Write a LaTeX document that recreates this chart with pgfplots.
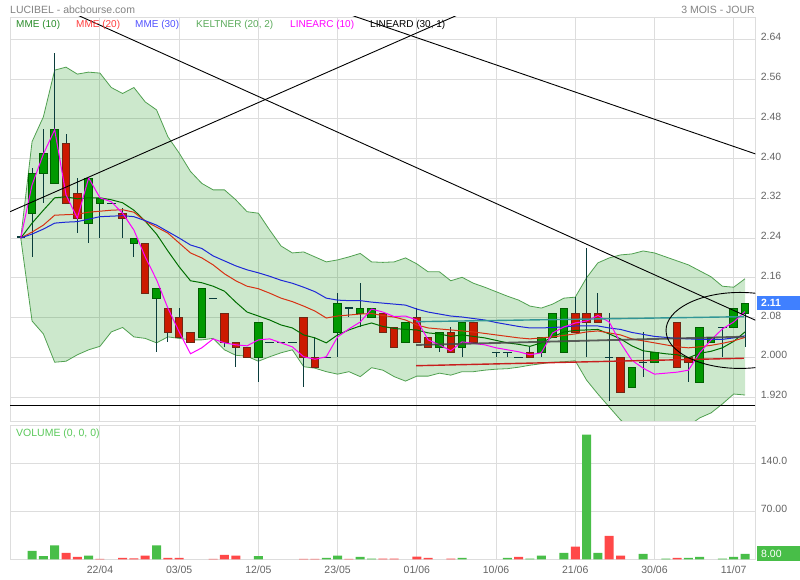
\documentclass[border=0pt]{standalone}
\usepackage{fontspec}
\setmainfont{Liberation Sans}
\usepackage{pgfplots}
\usepackage{pgfplotstable}
\pgfplotsset{compat=1.18}
\usepgfplotslibrary{fillbetween}

\definecolor{gridc}{RGB}{221,221,221}
\definecolor{txtc}{RGB}{100,100,100}
\definecolor{titlec}{RGB}{130,130,130}
\definecolor{kfill}{RGB}{0,140,0}
\definecolor{kline}{RGB}{80,160,80}
\definecolor{mmeA}{RGB}{0,110,0}
\definecolor{mmeB}{RGB}{215,50,20}
\definecolor{mmeC}{RGB}{30,40,215}
\definecolor{linarc}{RGB}{255,0,255}
\definecolor{cgreen}{RGB}{0,153,0}
\definecolor{cgreenb}{RGB}{0,95,0}
\definecolor{cred}{RGB}{204,26,0}
\definecolor{credb}{RGB}{110,40,20}
\definecolor{wick}{RGB}{10,60,60}
\definecolor{vgreen}{RGB}{72,190,72}
\definecolor{vred}{RGB}{255,72,72}
\definecolor{tealc}{RGB}{50,150,150}
\definecolor{grayl}{RGB}{70,70,70}
\definecolor{redl}{RGB}{200,30,30}
\definecolor{lblblue}{RGB}{64,128,255}
\definecolor{lgA}{RGB}{40,140,40}
\definecolor{lgB}{RGB}{255,60,60}
\definecolor{lgC}{RGB}{80,80,255}
\definecolor{lgD}{RGB}{90,170,90}
\definecolor{volc}{RGB}{90,200,90}

\pgfplotstableread{
d ku kl m10 m20 m30 lc
-7 2.240 2.240 2.240 2.240 2.240 2.240
-6 2.434 2.073 2.270 2.252 2.248 2.347
-5 2.484 2.047 2.296 2.266 2.258 2.409
-4 2.578 1.990 2.321 2.286 2.270 2.458
-3 2.584 1.992 2.323 2.287 2.272 2.327
-2 2.570 2.005 2.319 2.288 2.273 2.280
-1 2.574 2.015 2.321 2.292 2.278 2.361
0 2.572 2.022 2.321 2.294 2.283 2.321
1 2.543 2.051 2.317 2.296 2.284 2.313
2 2.531 2.060 2.311 2.297 2.285 2.290
3 2.543 2.041 2.296 2.292 2.283 2.256
4 2.514 2.038 2.274 2.274 2.275 2.202
5 2.498 2.029 2.248 2.262 2.266 2.156
6 2.444 2.041 2.214 2.250 2.253 2.099
7 2.411 2.038 2.182 2.230 2.240 2.051
8 2.374 2.035 2.154 2.210 2.226 2.007
9 2.350 2.035 2.150 2.200 2.219 2.019
10 2.337 2.038 2.143 2.186 2.204 2.037
11 2.337 2.015 2.133 2.168 2.194 2.029
12 2.317 2.004 2.111 2.154 2.184 2.025
13 2.293 2.002 2.091 2.143 2.176 2.023
14 2.290 1.992 2.083 2.138 2.170 2.035
15 2.256 2.001 2.075 2.129 2.163 2.037
16 2.224 2.009 2.065 2.119 2.155 2.029
17 2.210 2.015 2.059 2.112 2.149 2.021
18 2.212 1.981 2.045 2.103 2.141 2.001
19 2.202 1.978 2.039 2.093 2.132 1.996
20 2.192 1.971 2.029 2.079 2.119 2.001
21 2.196 1.966 2.045 2.083 2.115 2.041
22 2.202 1.971 2.055 2.085 2.114 2.057
23 2.209 1.961 2.063 2.087 2.114 2.071
24 2.192 1.979 2.069 2.088 2.111 2.097
25 2.191 1.974 2.062 2.084 2.109 2.091
26 2.192 1.961 2.058 2.081 2.107 2.082
27 2.200 1.952 2.056 2.075 2.105 2.083
28 2.188 1.962 2.055 2.065 2.097 2.075
29 2.172 1.962 2.049 2.059 2.091 2.035
30 2.172 1.968 2.047 2.057 2.087 2.025
31 2.154 1.964 2.042 2.055 2.083 2.013
32 2.161 1.971 2.045 2.053 2.081 2.031
33 2.149 1.971 2.042 2.051 2.078 2.028
34 2.141 1.974 2.039 2.048 2.075 2.025
35 2.132 1.976 2.034 2.045 2.070 2.019
36 2.123 1.977 2.029 2.042 2.066 2.015
37 2.115 1.980 2.026 2.039 2.062 2.011
38 2.103 1.984 2.022 2.037 2.059 2.005
39 2.099 1.987 2.029 2.039 2.059 2.009
40 2.107 1.990 2.041 2.041 2.060 2.049
41 2.119 1.991 2.051 2.044 2.061 2.061
42 2.121 1.993 2.054 2.047 2.063 2.069
43 2.160 1.954 2.055 2.051 2.063 2.073
44 2.190 1.926 2.056 2.053 2.063 2.084
45 2.200 1.900 2.047 2.049 2.059 2.071
46 2.206 1.874 2.037 2.045 2.056 2.029
47 2.208 1.854 2.023 2.037 2.050 1.994
48 2.214 1.841 2.013 2.033 2.046 1.978
49 2.210 1.837 2.010 2.029 2.042 1.966
50 2.202 1.837 2.007 2.025 2.040 1.968
51 2.194 1.846 2.005 2.021 2.038 1.970
52 2.186 1.862 1.999 2.019 2.037 1.974
53 2.174 1.878 2.008 2.021 2.036 2.009
54 2.162 1.888 2.012 2.024 2.036 2.035
55 2.143 1.906 2.019 2.028 2.036 2.057
56 2.141 1.926 2.032 2.033 2.039 2.071
57 2.158 1.924 2.051 2.040 2.043 2.092
}\lines

\pgfplotstableread{
d o h l c
-6 2.290 2.380 2.201 2.370
-5 2.370 2.459 2.311 2.411
-4 2.350 2.612 2.350 2.459
-1 2.270 2.360 2.231 2.360
0 2.310 2.320 2.241 2.320
3 2.229 2.239 2.201 2.239
5 2.119 2.139 2.011 2.139
9 2.039 2.139 2.039 2.139
14 2.000 2.070 1.951 2.070
21 2.050 2.129 2.001 2.109
23 2.088 2.149 2.061 2.099
24 2.080 2.099 2.080 2.099
27 2.030 2.070 2.030 2.070
30 2.020 2.050 2.011 2.050
32 2.020 2.070 2.001 2.070
39 2.010 2.040 2.000 2.040
40 2.040 2.088 2.040 2.088
41 2.010 2.099 2.010 2.099
47 1.940 1.980 1.940 1.980
49 1.990 2.010 1.990 2.010
53 1.950 2.060 1.950 2.060
54 2.030 2.040 2.030 2.040
56 2.060 2.099 2.060 2.099
57 2.088 2.109 2.021 2.109
}\gtab

\pgfplotstableread{
d o h l c
-3 2.431 2.449 2.310 2.310
-2 2.330 2.360 2.251 2.280
2 2.290 2.301 2.241 2.280
4 2.229 2.229 2.129 2.129
6 2.099 2.099 2.031 2.050
7 2.080 2.099 2.040 2.040
8 2.050 2.050 2.030 2.030
11 2.088 2.088 2.021 2.030
12 2.030 2.030 1.981 2.020
13 2.020 2.020 2.000 2.000
18 2.080 2.080 1.941 2.000
19 2.000 2.040 1.980 1.980
25 2.088 2.088 2.050 2.050
26 2.060 2.060 2.020 2.020
28 2.080 2.099 2.030 2.030
29 2.040 2.040 2.020 2.020
31 2.050 2.060 2.010 2.010
33 2.070 2.070 2.030 2.030
38 2.010 2.020 2.000 2.000
42 2.088 2.121 2.050 2.050
43 2.088 2.219 2.001 2.070
44 2.088 2.129 2.070 2.070
46 2.000 2.000 1.930 1.930
51 2.070 2.070 1.980 1.980
52 2.000 2.000 1.951 1.990
}\rtab

\pgfplotstableread{
d o h l c
-7 2.242 2.242 2.242 2.242
1 2.310 2.310 2.310 2.310
10 2.119 2.119 2.119 2.119
15 2.030 2.030 2.030 2.030
16 2.030 2.030 2.030 2.030
17 2.030 2.030 2.030 2.030
20 2.000 2.000 2.000 2.000
22 2.099 2.099 2.082 2.099
35 2.010 2.010 2.001 2.010
36 2.010 2.010 2.001 2.010
37 2.000 2.000 2.000 2.000
45 2.000 2.090 1.911 2.000
48 1.990 2.050 1.961 1.990
55 2.060 2.060 2.001 2.060
}\dtab

\pgfplotstableread{
d v
-6 12.1
-5 4.8
-4 20.4
-1 5.3
5 20.4
14 4.8
20 1.9
21 5.3
23 3.4
24 0.8
32 1.9
36 1.9
38 1.0
39 5.3
41 9.2
43 181.7
44 9.2
48 7.8
50 1.0
52 1.9
53 3.4
55 1.0
56 3.4
57 7.8
}\vg

\pgfplotstableread{
d v
-3 9.2
-2 3.4
0 0.6
2 1.9
3 1.5
4 5.3
6 1.9
7 1.9
10 0.6
11 6.3
12 5.3
18 0.6
19 0.6
22 0.6
25 1.0
26 0.8
28 3.8
29 1.9
31 0.8
37 3.4
42 18.4
45 34.0
46 5.3
51 1.9
}\vr

\begin{document}
\begin{tikzpicture}[font=\fontsize{10.5}{12}\selectfont]

\begin{axis}[
  at={(10pt,159pt)}, anchor=south west,
  width=745.3pt, height=404pt, scale only axis,
  xmin=-7.95, xmax=57.91, ymin=1.8717, ymax=2.685,
  axis line style={draw=gridc},
  xtick={0,7,14,21,28,35,42,49,56}, xticklabels={},
  ytick={1.92,2.0,2.08,2.16,2.24,2.32,2.4,2.48,2.56,2.64},
  yticklabels={1.920,2.000,2.08,2.16,2.24,2.32,2.40,2.48,2.56,2.64},
  yticklabel pos=right,
  yticklabel style={anchor=west, text=txtc, xshift=2pt, yshift=2pt},
  major tick length=0pt,
  grid=major, major grid style={draw=gridc, line width=1pt},
]
% Keltner band
\addplot[name path=ku, draw=kline, line width=0.8pt] table[x=d,y=ku]{\lines};
\addplot[name path=kl, draw=kline, line width=0.8pt] table[x=d,y=kl]{\lines};
\addplot[fill=kfill, fill opacity=0.2, draw=none] fill between[of=ku and kl];

% wicks
\addplot[draw=none, error bars/.cd, y dir=both, y explicit, error mark=none,
  error bar style={line width=1pt, draw=wick}]
  table[x=d, y expr={(\thisrow{h}+\thisrow{l})/2}, y error expr={(\thisrow{h}-\thisrow{l})/2}]{\gtab};
\addplot[draw=none, error bars/.cd, y dir=both, y explicit, error mark=none,
  error bar style={line width=1pt, draw=wick}]
  table[x=d, y expr={(\thisrow{h}+\thisrow{l})/2}, y error expr={(\thisrow{h}-\thisrow{l})/2}]{\rtab};
\addplot[draw=none, error bars/.cd, y dir=both, y explicit, error mark=none,
  error bar style={line width=1pt, draw=wick}]
  table[x=d, y expr={(\thisrow{h}+\thisrow{l})/2}, y error expr={(\thisrow{h}-\thisrow{l})/2}]{\dtab};

% bodies
\addplot[draw=none, error bars/.cd, y dir=both, y explicit, error mark=none,
  error bar style={line width=8.5pt, draw=cgreenb}]
  table[x=d, y expr={(\thisrow{o}+\thisrow{c})/2}, y error expr={abs(\thisrow{c}-\thisrow{o})/2+0.0011}]{\gtab};
\addplot[draw=none, error bars/.cd, y dir=both, y explicit, error mark=none,
  error bar style={line width=6.5pt, draw=cgreen}]
  table[x=d, y expr={(\thisrow{o}+\thisrow{c})/2}, y error expr={max(abs(\thisrow{c}-\thisrow{o})/2-0.0009,0)}]{\gtab};
\addplot[draw=none, error bars/.cd, y dir=both, y explicit, error mark=none,
  error bar style={line width=8.5pt, draw=credb}]
  table[x=d, y expr={(\thisrow{o}+\thisrow{c})/2}, y error expr={abs(\thisrow{c}-\thisrow{o})/2+0.0011}]{\rtab};
\addplot[draw=none, error bars/.cd, y dir=both, y explicit, error mark=none,
  error bar style={line width=6.5pt, draw=cred}]
  table[x=d, y expr={(\thisrow{o}+\thisrow{c})/2}, y error expr={max(abs(\thisrow{c}-\thisrow{o})/2-0.0009,0)}]{\rtab};
\addplot[draw=none, error bars/.cd, y dir=both, y explicit, error mark=none,
  error bar style={line width=8.5pt, draw=wick}]
  table[x=d, y=o, y error expr={0.0012}]{\dtab};

% moving averages and curves
\addplot[draw=mmeA, line width=1pt] table[x=d,y=m10]{\lines};
\addplot[draw=mmeB, line width=1pt] table[x=d,y=m20]{\lines};
\addplot[draw=mmeC, line width=1pt] table[x=d,y=m30]{\lines};
\addplot[draw=linarc, line width=1pt] table[x=d,y=lc]{\lines};

% regression lines
\addplot[draw=tealc, line width=1.4pt] coordinates {(27.93,2.0716) (56.9,2.0817)};
\addplot[draw=grayl, line width=1.8pt, opacity=0.85] coordinates {(27.93,2.0247) (56.9,2.0414)};
\addplot[draw=redl, line width=1.4pt] coordinates {(27.93,1.983) (56.9,1.998)};
% trend lines
\addplot[draw=black, line width=0.9pt] coordinates {(-7.95,2.750) (57.91,2.0747)};
\addplot[draw=black, line width=0.9pt] coordinates {(-7.95,2.293) (40,2.773)};
\addplot[draw=black, line width=0.9pt] coordinates {(15,2.745) (57.97,2.409)};
\addplot[draw=black, line width=0.9pt] coordinates {(-7.95,1.904) (57.91,1.904)};
\draw[black, line width=0.9pt] (axis cs:56.56,2.054) ellipse [x radius=74pt, y radius=38pt];
\end{axis}

\begin{axis}[
  at={(10pt,20.7pt)}, anchor=south west,
  width=745.3pt, height=133.6pt, scale only axis,
  xmin=-7.95, xmax=57.91, ymin=0, ymax=194.8,
  axis line style={draw=gridc},
  xtick={0,7,14,21,28,35,42,49,56},
  xticklabels={22/04,03/05,12/05,23/05,01/06,10/06,21/06,30/06,11/07},
  xticklabel style={text=txtc, yshift=-3pt},
  ytick={70,140}, yticklabels={70.00,140.0},
  yticklabel pos=right,
  yticklabel style={anchor=west, text=txtc, xshift=2pt, yshift=2pt},
  major tick length=0pt,
  grid=major, major grid style={draw=gridc, line width=1pt},
]
\addplot[ybar, bar width=9pt, bar shift=0pt, fill=vgreen, draw=none] table[x=d,y=v]{\vg};
\addplot[ybar, bar width=9pt, bar shift=0pt, fill=vred, draw=none] table[x=d,y=v]{\vr};
\end{axis}

% texts
\node[anchor=west, inner sep=0pt, text=titlec] at (10pt,570pt) {LUCIBEL - abcbourse.com};
\node[anchor=east, inner sep=0pt, text=titlec] at (755pt,570pt) {3 MOIS - JOUR};
\begin{scope}[font=\fontsize{10}{12}\selectfont]
\node[anchor=west, inner sep=0pt, text=lgA] at (16pt,555pt) {MME (10)};
\node[anchor=west, inner sep=0pt, text=lgB] at (76pt,555pt) {MME (20)};
\node[anchor=west, inner sep=0pt, text=lgC] at (135pt,555pt) {MME (30)};
\node[anchor=west, inner sep=0pt, text=lgD] at (196pt,555pt) {KELTNER (20, 2)};
\node[anchor=west, inner sep=0pt, text=linarc] at (290pt,555pt) {LINEARC (10)};
\node[anchor=west, inner sep=0pt, text=black] at (370pt,555pt) {LINEARD (30, 1)};
\end{scope}
\node[anchor=west, inner sep=0pt, text=volc] at (16pt,146pt) {VOLUME (0, 0, 0)};
\fill[lblblue] (757pt,270pt) rectangle (800pt,283.5pt);
\node[anchor=west, inner sep=0pt, text=white, font=\bfseries\fontsize{10.5}{12}\selectfont] at (761pt,276.7pt) {2.11};
\fill[vgreen] (757pt,19pt) rectangle (800pt,33.5pt);
\node[anchor=west, inner sep=0pt, text=white] at (761pt,26.5pt) {8.00};
\path (0pt,0pt) rectangle (800pt,580pt);
\end{tikzpicture}
\end{document}
